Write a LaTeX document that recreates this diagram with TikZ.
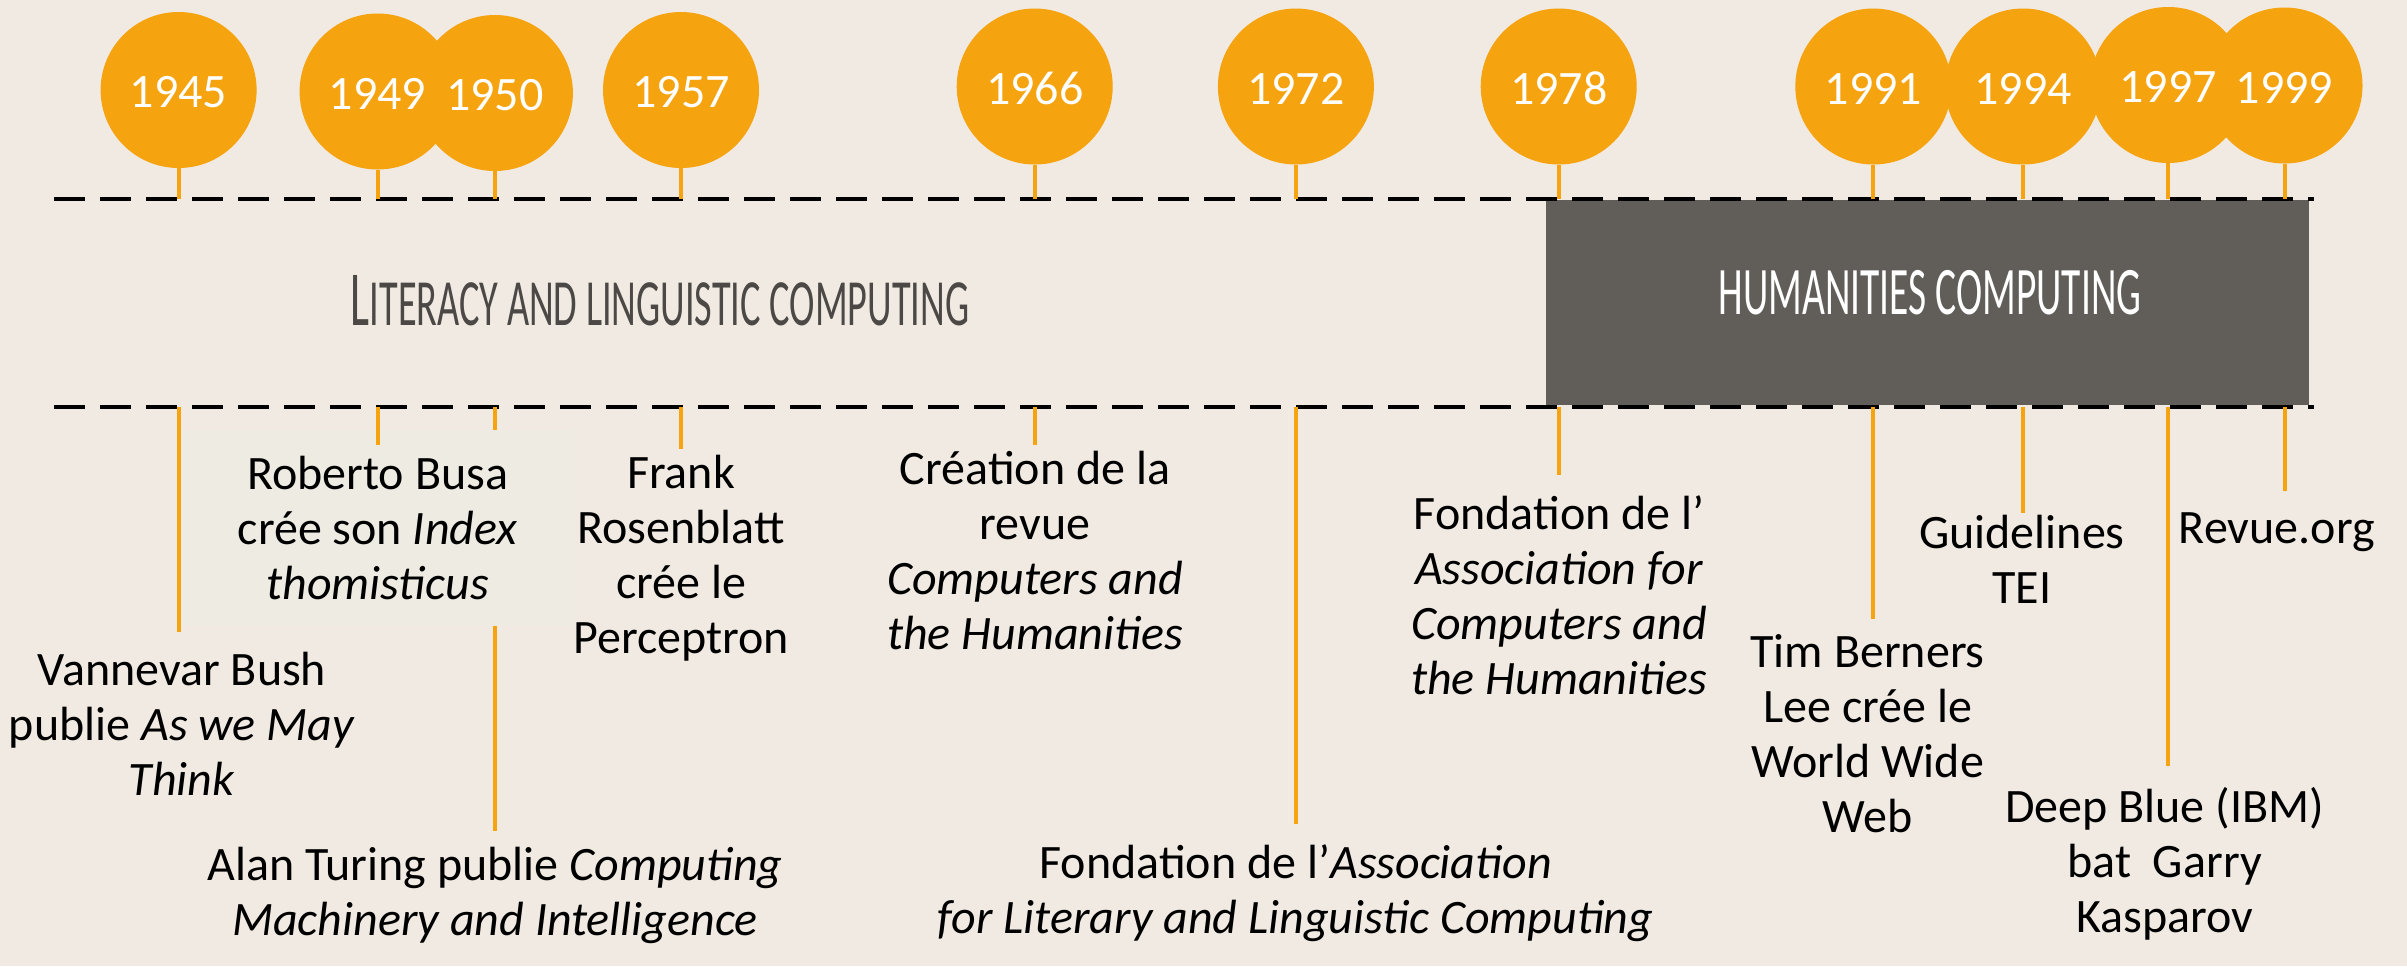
\documentclass[tikz,border=0pt]{standalone}
\usepackage{fontspec}
\setmainfont{Carlito}
\newfontfamily\headfont[FakeStretch=0.58]{Carlito}

\definecolor{paper}{HTML}{F0EAE2}
\definecolor{amber}{HTML}{F5A30E}
\definecolor{slate}{HTML}{615E59}
\definecolor{ink}{HTML}{4B4845}
\definecolor{busabox}{HTML}{EDEBE2}

\tikzset{
  bubble/.style={circle, fill=amber, minimum size=78pt, inner sep=0},
  yearlabel/.style={text=white, inner sep=0, font=\fontsize{24}{24}\selectfont},
  stem/.style={amber, line width=2pt},
  timeline/.style={black, line width=2pt, dash pattern=on 15.5pt off 7.5pt},
  event/.style={align=center, inner sep=0, anchor=north, font=\fontsize{24}{27.5}\selectfont},
}

\begin{document}
\begin{tikzpicture}[x=0.5pt,y=-0.5pt]
  \useasboundingbox[fill=paper] (0,0) rectangle (2407,966);

  % the two periods
  \fill[slate] (1546,200) rectangle (2309,405);
  \node[text=ink, font=\headfont] (literacy) at (660,301)
    {{\fontsize{39}{39}\selectfont L}{\fontsize{33}{33}\selectfont ITERACY AND LINGUISTIC COMPUTING}};
  \node[text=white, font=\headfont\fontsize{34}{34}\selectfont] (humanities) at (1930,293) {HUMANITIES COMPUTING};

  % dashed rails
  \coordinate (railtop) at (54,199);
  \coordinate (railbot) at (54,407);
  \draw[timeline] (railtop) -- ++(2260,0);
  \draw[timeline] (railbot) -- ++(2260,0);

  % year bubbles
  \foreach \yr/\x/\y in {1945/178.6/90, 1949/377.6/91.5, 1950/494.9/93, 1957/681/90,
      1966/1034.7/86.5, 1972/1295.9/86.5, 1978/1558.7/86.5, 1991/1873.3/86.5,
      1994/2023.1/86.5, 1997/2168.2/85, 1999/2284.5/85.5}
    \node[bubble] (y\yr) at (\x,\y) {};
  \foreach \yr in {1945,1949,1950,1957,1966,1972,1978,1991,1994,1997,1999} {
    \node[yearlabel] at ([yshift=-1pt]y\yr) {\yr};
    \draw[stem] (y\yr.south) -- (y\yr.south |- railtop);
  }

  % events below the rails
  \node[event] (bush) at (182,652) {Vannevar Bush\\publie \textit{As we May}\\\textit{Think}};
  \draw[stem, shorten >=10pt] (y1945 |- railbot) -- (y1945 |- bush.north);

  \node[event] (turing) at (495,847) {Alan Turing publie \textit{Computing}\\\textit{Machinery and Intelligence}};
  \draw[stem, shorten >=8pt] (y1950 |- railbot) -- (y1950 |- turing.north);

  \node[event, fill=busabox, inner xsep=28pt, inner ysep=13pt] (busa) at (377.6,430)
    {Roberto Busa\\crée son \textit{Index}\\\textit{thomisticus}};
  \draw[stem, shorten >=-7.5pt] (y1949 |- railbot) -- (y1949 |- busa.north);

  \node[event] (frank) at (681,455) {Frank\\Rosenblatt\\crée le\\Perceptron};
  \draw[stem, shorten >=3pt] (y1957 |- railbot) -- (y1957 |- frank.north);

  \node[event] (revuech) at (1035,451) {Création de la\\revue\\\textit{Computers and}\\\textit{the Humanities}};
  \draw[stem, shorten >=3pt] (y1966 |- railbot) -- (y1966 |- revuech.north);

  \node[event] (allc) at (1295.6,844) {Fondation de l’\textit{Association}\\\textit{for Literary and Linguistic Computing}};
  \draw[stem, shorten >=10pt] (y1972 |- railbot) -- (y1972 |- allc.north);

  \node[event] (ach) at (1559,495) {Fondation de l’\\\textit{Association for}\\\textit{Computers and}\\\textit{the Humanities}};
  \draw[stem, shorten >=10pt] (y1978 |- railbot) -- (y1978 |- ach.north);

  \node[event] (www) at (1867.6,634) {Tim Berners\\Lee crée le\\World Wide\\Web};
  \draw[stem, shorten >=7.5pt] (y1991 |- railbot) -- (y1991 |- www.north);

  \node[event] (tei) at (2022,515) {Guidelines\\TEI};
  \draw[stem, shorten >=1pt] (y1994 |- railbot) -- (y1994 |- tei.north);

  \node[event] (deepblue) at (2164.6,787) {Deep Blue (IBM)\\bat \ Garry\\Kasparov};
  \draw[stem, shorten >=10.5pt] (y1997 |- railbot) -- (y1997 |- deepblue.north);

  \node[event] (revorg) at (2276.8,512) {Revue.org};
  \draw[stem, shorten >=10.5pt] (y1999 |- railbot) -- (y1999 |- revorg.north);
\end{tikzpicture}
\end{document}
